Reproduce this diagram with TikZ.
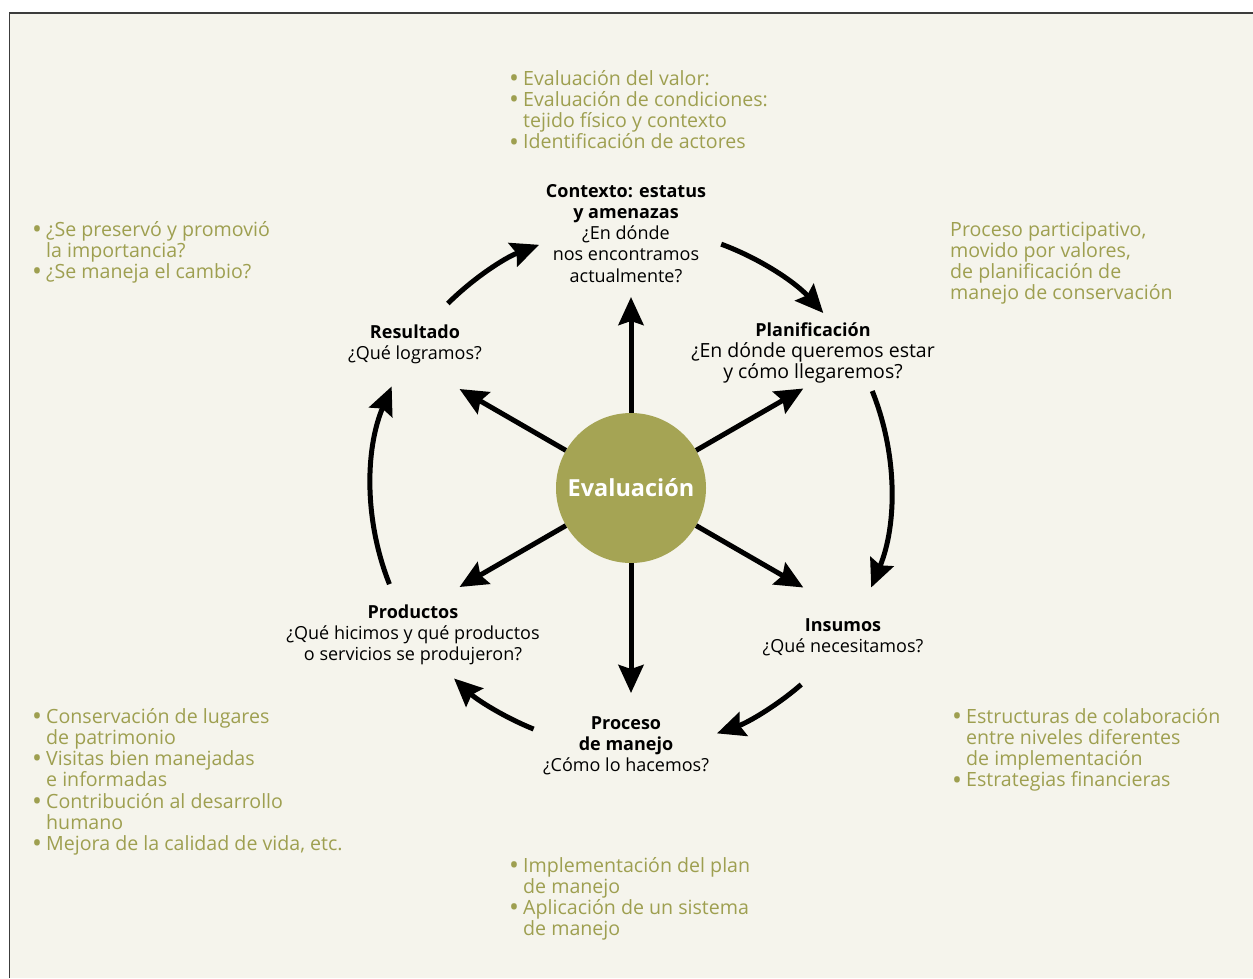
\documentclass[tikz,border=0pt]{standalone}
\usepackage{fontspec}
\setmainfont{Open Sans}
\usetikzlibrary{arrows.meta}

\definecolor{paper}{RGB}{245,244,236}
\definecolor{framegray}{RGB}{60,60,60}
\definecolor{evalgreen}{RGB}{165,164,84}
\definecolor{notegreen}{RGB}{158,159,80}

% bullet and hanging indent for the green lists
\newcommand{\itm}{\makebox[14pt][l]{\raisebox{-0.11em}{\scalebox{1.35}{\textbullet}}}}
\newcommand{\ind}{\hspace*{14pt}}
\newcommand{\ctext}[1]{\parbox[t]{300pt}{\centering #1}}
\newcommand{\ltext}[1]{\parbox[t]{400pt}{\raggedright #1}}
\newcommand{\wide}{\fontsize{19.5}{21.3}\selectfont}

\begin{document}
\begin{tikzpicture}[x=1pt,y=-1pt,
  every node/.style={inner sep=0pt},
  stage/.style={font=\fontsize{18}{21.3}\selectfont, anchor=base},
  greennote/.style={font=\fontsize{19.6}{21.3}\selectfont, text=notegreen, anchor=base west},
  arr/.style={line width=5pt, -{Stealth[length=28pt,width=25pt,inset=4pt]}}]
\useasboundingbox (0,0) rectangle (1253,978);
\fill[paper] (9.5,13) rectangle (1253,978);
\draw[line width=1.5pt,framegray] (9.5,978) -- (9.5,13) -- (1253,13);

\node[circle, fill=evalgreen, minimum size=150pt, text=white,
  font=\fontsize{23.5}{28}\selectfont\bfseries] (eval) at (631,488) {Evaluación};

% stages of the cycle
\node[stage] (ctx) at (626,197) {\ctext{\textbf{Contexto: estatus}\\ \textbf{y amenazas}\\ ¿En dónde\\ nos encontramos\\ actualmente?}};
\node[stage] (plan) at (813,336) {\ctext{\textbf{Planificación}\\ {\wide ¿En dónde queremos estar}\\ {\wide y cómo llegaremos?}}};
\node[stage] (ins) at (843,631) {\ctext{\textbf{Insumos}\\ ¿Qué necesitamos?}};
\node[stage] (proc) at (626,729) {\ctext{\textbf{Proceso}\\ \textbf{de manejo}\\ ¿Cómo lo hacemos?}};
\node[stage] (prod) at (413,618) {\ctext{\textbf{Productos}\\ ¿Qué hicimos y qué productos\\ o servicios se produjeron?}};
\node[stage] (res) at (415,338) {\ctext{\textbf{Resultado}\\ ¿Qué logramos?}};

% notes
\node[greennote] (n-ctx) at (509,85) {\ltext{\itm Evaluación del valor:\\ \itm Evaluación de condiciones:\\ \ind tejido físico y contexto\\ \itm Identificación de actores}};
\node[greennote] (n-plan) at (950,236) {\ltext{Proceso participativo,\\ movido por valores,\\ de planificación de\\ manejo de conservación}};
\node[greennote] (n-ins) at (952,723) {\ltext{\itm Estructuras de colaboración\\ \ind entre niveles diferentes\\ \ind de implementación\\ \itm Estrategias financieras}};
\node[greennote] (n-proc) at (509,872) {\ltext{\itm Implementación del plan\\ \ind de manejo\\ \itm Aplicación de un sistema\\ \ind de manejo}};
\node[greennote] (n-prod) at (32,723) {\ltext{\itm Conservación de lugares\\ \ind de patrimonio\\ \itm Visitas bien manejadas\\ \ind e informadas\\ \itm Contribución al desarrollo\\ \ind humano\\ \itm Mejora de la calidad de vida, etc.}};
\node[greennote] (n-res) at (32,236) {\ltext{\itm ¿Se preservó y promovió\\ \ind la importancia?\\ \itm ¿Se maneja el cambio?}};

% spokes out of the centre
\foreach \ang/\len/\n in {90/191/ctx, 30/199/plan, -30/199/ins, -90/205/proc, 210/198/prod, 150/198/res}
{
  \coordinate (tip-\n) at ([shift={(\ang:\len pt)}]eval.center);
  \draw[arr] (eval) -- (tip-\n);
}

% the cycle around
\foreach \a/\b in {134.8/110.7, 69.7/42.3, 21.9/-22.5, -49.1/-70.7, -112/-132.9, -158.3/-203}
  \draw[arr] ([shift={(\a:260pt)}]eval.center) arc[start angle=\a, end angle=\b, radius=260pt];
\end{tikzpicture}
\end{document}
